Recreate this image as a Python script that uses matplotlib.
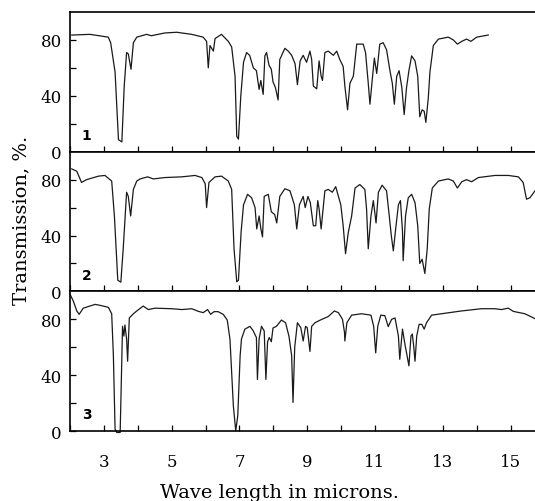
import numpy as np
import matplotlib
matplotlib.use("Agg")
import matplotlib.pyplot as plt
from matplotlib.ticker import FixedLocator

plt.rcParams['font.family'] = ['DejaVu Serif']

# spectrum 1
wl1 = [2.05, 2.59, 3.13, 3.2, 3.33, 3.43, 3.53, 3.6, 3.67, 3.72,
       3.8, 3.87, 3.97, 4.26, 4.4, 4.8, 5.15, 5.59, 5.93, 6.03,
       6.08, 6.13, 6.23, 6.28, 6.47, 6.67, 6.77, 6.87, 6.92, 6.97,
       7.04, 7.12, 7.21, 7.3, 7.41, 7.5, 7.58, 7.63, 7.7, 7.75,
       7.8, 7.87, 7.94, 7.99, 8.06, 8.14, 8.19, 8.34, 8.44, 8.54,
       8.64, 8.71, 8.79, 8.88, 8.98, 9.08, 9.13, 9.18, 9.28, 9.35,
       9.41, 9.45, 9.52, 9.62, 9.77, 9.87, 9.96, 10.06, 10.11, 10.19,
       10.26, 10.36, 10.46, 10.65, 10.72, 10.8, 10.85, 10.92, 10.98, 11.05,
       11.14, 11.24, 11.34, 11.44, 11.51, 11.57, 11.64, 11.71, 11.79, 11.86,
       11.93, 12.0, 12.08, 12.18, 12.26, 12.32, 12.39, 12.45, 12.5, 12.57,
       12.62, 12.72, 12.87, 13.16, 13.31, 13.43, 13.56, 13.7, 13.83, 14.0,
       14.34]
t1 = [83.5, 84, 82, 78, 57, 8.6, 7, 47, 71, 70,
      59, 78, 82, 84, 83, 85, 85.5, 84, 82, 79,
      60, 76, 72, 81, 84, 79, 75, 54, 11, 9,
      40, 64, 71, 69, 60, 58, 44.6, 51, 41, 68.6,
      71, 62, 59, 50, 46, 37, 66, 74, 72, 69,
      63, 48, 65, 69, 64, 72, 66, 47, 45, 65,
      54, 51, 71, 72, 69, 72, 66, 61, 47, 30,
      49, 54, 77, 77, 71, 49, 34, 52, 67, 56,
      77, 78, 73, 58, 49, 34, 54, 58, 46, 26.6,
      46, 58, 68.6, 65, 54, 25, 30, 29, 21, 38,
      57, 76, 80.6, 82, 80, 77, 79, 80.6, 79, 82,
      83.5]

# spectrum 2
wl2 = [2.05, 2.2, 2.34, 2.49, 2.84, 3.03, 3.23, 3.31, 3.41, 3.5,
       3.57, 3.67, 3.72, 3.79, 3.87, 3.97, 4.07, 4.29, 4.46, 4.8,
       5.3, 5.69, 5.89, 5.99, 6.03, 6.1, 6.28, 6.47, 6.67, 6.77,
       6.84, 6.92, 6.97, 7.05, 7.12, 7.24, 7.36, 7.46, 7.51, 7.58,
       7.63, 7.68, 7.73, 7.85, 7.94, 8.04, 8.1, 8.19, 8.34, 8.49,
       8.62, 8.69, 8.77, 8.88, 8.94, 9.02, 9.09, 9.18, 9.25, 9.31,
       9.35, 9.41, 9.52, 9.62, 9.74, 9.84, 9.92, 9.99, 10.06, 10.13,
       10.21, 10.31, 10.41, 10.55, 10.7, 10.75, 10.8, 10.88, 10.95, 11.03,
       11.1, 11.21, 11.34, 11.42, 11.48, 11.54, 11.61, 11.69, 11.75, 11.81,
       11.83, 11.9, 11.98, 12.08, 12.18, 12.26, 12.32, 12.39, 12.47, 12.54,
       12.6, 12.69, 12.87, 13.16, 13.31, 13.43, 13.56, 13.7, 13.85, 14.05,
       14.54, 14.93, 15.23, 15.37, 15.47, 15.57, 15.72]
t2 = [87.7, 86, 78, 80, 82.5, 83, 79, 54, 8, 6.6,
      30.5, 71, 68, 54, 73, 79, 80.5, 82, 80.5, 81.5,
      82, 83, 81.5, 77, 60, 78, 82, 82.5, 79, 73,
      30.5, 6.9, 8, 43, 62, 69.5, 67, 60, 44.7, 54,
      45, 39, 68, 69.5, 57, 55, 49, 68, 73.5, 72,
      62, 44.7, 62, 68, 60, 68, 63.5, 47, 47, 65,
      59, 44.7, 72, 73, 71, 75, 68, 62, 47, 27,
      42, 54, 74, 76.5, 73, 59, 30.5, 54, 65, 49,
      71, 76, 72, 54, 40, 29, 45, 62, 65, 43,
      22, 54, 67, 69.5, 63.5, 47, 20, 23, 12.8, 30.5,
      59, 74, 79, 80.5, 79, 74, 78.5, 80, 78.5, 81.5,
      83, 83, 82, 78, 66, 67, 72]

# spectrum 3
wl3 = [2.0, 2.1, 2.2, 2.27, 2.39, 2.74, 2.89, 3.13, 3.23, 3.28,
       3.33, 3.38, 3.48, 3.51, 3.55, 3.59, 3.62, 3.67, 3.7, 3.75,
       3.87, 3.97, 4.16, 4.31, 4.51, 5.0, 5.3, 5.59, 5.79, 5.93,
       6.06, 6.15, 6.25, 6.37, 6.52, 6.64, 6.72, 6.82, 6.89, 6.95,
       7.02, 7.06, 7.16, 7.31, 7.4, 7.5, 7.53, 7.58, 7.65, 7.73,
       7.78, 7.83, 7.88, 7.94, 7.99, 8.09, 8.24, 8.36, 8.46, 8.54,
       8.58, 8.63, 8.71, 8.81, 8.88, 8.95, 9.0, 9.08, 9.13, 9.23,
       9.43, 9.62, 9.8, 9.92, 10.04, 10.1, 10.11, 10.17, 10.31, 10.6,
       10.88, 10.96, 11.02, 11.08, 11.17, 11.29, 11.39, 11.49, 11.59, 11.69,
       11.73, 11.81, 11.89, 11.93, 12.0, 12.06, 12.1, 12.14, 12.18, 12.23,
       12.3, 12.38, 12.45, 12.52, 12.67, 12.96, 13.55, 14.14, 14.53, 14.73,
       14.93, 15.08, 15.42, 15.72]
t3 = [98, 93, 86, 83.6, 88, 90.7, 90, 88.6, 84, 54,
      1.4, -1, -1, 31, 75, 68, 76, 66, 50, 81,
      84, 86, 89.5, 87, 88, 87.6, 87, 87.6, 85.7, 84.8,
      87, 83.6, 85.5, 85.5, 83.6, 79.5, 65.7, 18, 0.2, 11,
      54, 66, 73, 75, 72, 67, 37, 66, 75, 71.7,
      37, 64, 67, 64, 73.8, 75, 79.5, 77.6, 68, 54,
      20.5, 60, 77.6, 74, 64.5, 75, 74, 57, 75, 77.6,
      80, 82, 86, 84.8, 80, 70.5, 64.5, 77.6, 83, 84,
      83, 75, 56, 75, 83, 82.6, 74.8, 80, 81, 68,
      51.4, 73, 61, 56, 46.7, 68, 69.5, 61, 50, 68,
      76.4, 76.4, 73, 77.6, 83, 84, 86, 87.6, 87.6, 87,
      88, 85.7, 84, 80.5]

spectra = [(wl1, t1, "1"), (wl2, t2, "2"), (wl3, t3, "3")]
x_labels = [3, 5, 7, 9, 11, 13, 15]
y_labels = [0, 40, 80]

fig = plt.figure(figsize=(5.35, 5.02), dpi=100)

left, top, ph = 70 / 535, 1 - 13 / 502, 139.7 / 502
for i, (wl, t, name) in enumerate(spectra):
    ax = fig.add_axes([left, top - (i + 1) * ph, 1 - left, ph])
    ax.plot(wl, t, color='#1a1a1a', lw=0.9, clip_on=False)
    ax.set_xlim(2, 15.72)
    ax.set_ylim(0, 100)
    ax.spines['right'].set_visible(False)
    for s in ['left', 'top', 'bottom']:
        ax.spines[s].set_linewidth(1.2)
    ax.xaxis.set_major_locator(FixedLocator(x_labels))
    ax.xaxis.set_minor_locator(FixedLocator([2, 4, 6, 8, 10, 12, 14]))
    ax.yaxis.set_major_locator(FixedLocator(y_labels))
    ax.yaxis.set_minor_locator(FixedLocator([20, 60]))
    ax.tick_params(which='both', direction='in', length=4, width=0.9,
                   labelsize=12, pad=6)
    ax.tick_params(axis='x', pad=16)
    if i < 2:
        ax.tick_params(axis='x', labelbottom=False)
    ax.text(2.35, 12, name, fontsize=10, fontweight='bold',
            family='DejaVu Sans', va='center', ha='left')

fig.text(21 / 535, 1 - 220 / 502, "Transmission, %.", rotation=90,
         ha='center', va='center', fontsize=14)
fig.text(280 / 535, 1 - 493 / 502, "Wave length in microns.",
         ha='center', va='center', fontsize=14)

fig.savefig("out.png", dpi=100)
